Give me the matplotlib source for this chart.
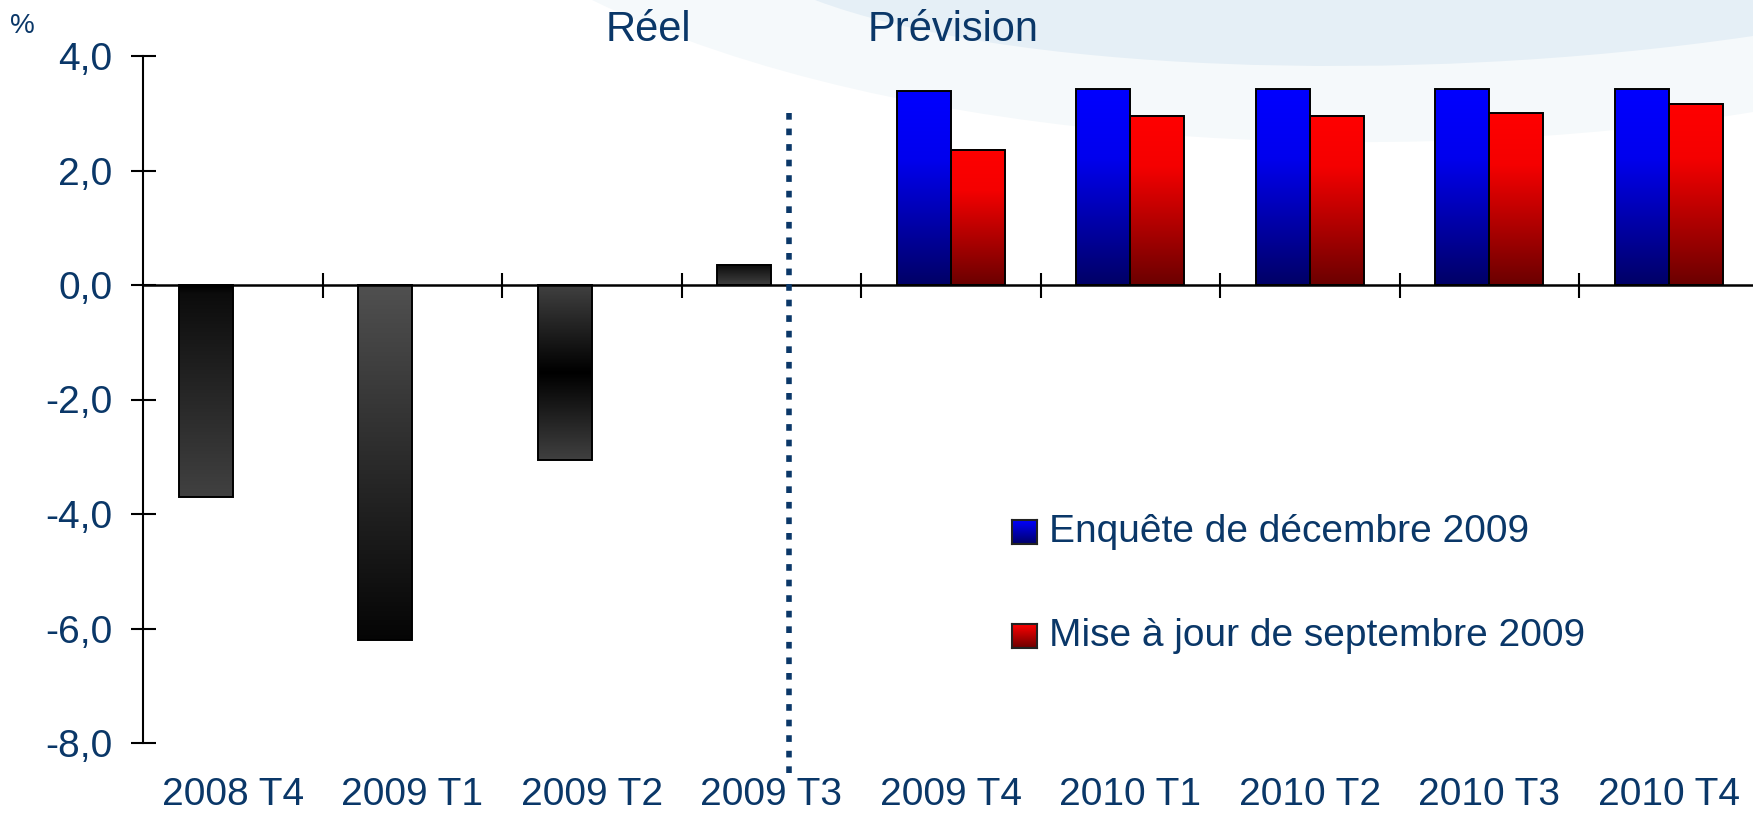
import matplotlib.pyplot as plt
import numpy as np
from matplotlib.colors import LinearSegmentedColormap
from matplotlib.patches import PathPatch
from matplotlib.path import Path

plt.rcParams['font.family'] = ['Liberation Sans', 'DejaVu Sans']

# data
categories = ['2008 T4', '2009 T1', '2009 T2', '2009 T3', '2009 T4',
              '2010 T1', '2010 T2', '2010 T3', '2010 T4']
reel = [-3.7, -6.2, -3.05, 0.35]
enquete_dec = [3.38, 3.42, 3.42, 3.42, 3.42]
maj_sept = [2.36, 2.96, 2.96, 3.0, 3.17]
yticks = [-8, -6, -4, -2, 0, 2, 4]
ytick_labels = ['-8,0', '-6,0', '-4,0', '-2,0', '0,0', '2,0', '4,0']
legend_labels = ['Enquête de décembre 2009', 'Mise à jour de septembre 2009']

NAVY = '#0a3768'
W, H = 1753, 815

# gradient stops (top -> bottom) for each bar style
gray_stops = [
    [(0, '#000000'), (0.04, '#0c0c0c'), (1, '#414141')],
    [(0, '#505050'), (1, '#050505')],
    [(0, '#404040'), (0.5, '#000000'), (1, '#404040')],
    [(0, '#0a0a0a'), (1, '#404040')],
]
blue_stops = [(0, '#0000ff'), (0.35, '#0000ee'), (1, '#000066')]
red_stops = [(0, '#ff0000'), (0.3, '#f50000'), (1, '#6b0000')]


def vgrad(stops, n=256):
    cmap = LinearSegmentedColormap.from_list('g', stops)
    return cmap(np.linspace(0, 1, n))[:, None, :]


def fill_bars(ax, bars, stops_list):
    for b, stops in zip(bars, stops_list):
        x0, y0 = b.get_x(), b.get_y()
        w, h = b.get_width(), b.get_height()
        ax.imshow(vgrad(stops), extent=[x0, x0 + w, min(y0, y0 + h), max(y0, y0 + h)],
                  aspect='auto', origin='upper', zorder=2, interpolation='bilinear')


fig = plt.figure(figsize=(W / 100, H / 100), dpi=100)


def fx(px):
    return px / W


def fy(py):
    return 1 - py / H


# light blue swoosh in the background
def band(p0, p1, p2, p3, color):
    pts = [(fx(x), fy(y)) for x, y in (p0, p1, p2, p3)]
    verts = pts + [(fx(W + 5), fy(-5)), (fx(p0[0]), fy(-5)), pts[0]]
    codes = [Path.MOVETO, Path.CURVE4, Path.CURVE4, Path.CURVE4,
             Path.LINETO, Path.LINETO, Path.CLOSEPOLY]
    fig.add_artist(PathPatch(Path(verts, codes), transform=fig.transFigure,
                             facecolor=color, edgecolor='none', zorder=0))


band((592, 0), (900, 150), (1400, 170), (W, 112), '#f5f9fb')
band((815, 0), (1000, 70), (1400, 88), (W, 36), '#e5eff6')

ax = fig.add_axes([fx(143), 72 / H, (1758.5 - 143) / W, 687 / H])
ax.set_facecolor('none')

x = np.arange(len(categories))
bw = 0.3
n_reel = len(reel)
xf = x[n_reel:n_reel + len(enquete_dec)]

gray_bars = ax.bar(x[:n_reel] - bw / 2, reel, bw, facecolor='none',
                   edgecolor='black', linewidth=1.4, zorder=3)
blue_bars = ax.bar(xf - bw / 2, enquete_dec, bw, facecolor='none',
                   edgecolor='black', linewidth=1.4, zorder=3)
red_bars = ax.bar(xf + bw / 2, maj_sept, bw, facecolor='none',
                  edgecolor='black', linewidth=1.4, zorder=3)
fill_bars(ax, gray_bars, gray_stops)
fill_bars(ax, blue_bars, [blue_stops] * len(blue_bars))
fill_bars(ax, red_bars, [red_stops] * len(red_bars))

ax.set_xlim(-0.5, len(categories) - 0.5)
ax.set_ylim(-8, 4)

# separation real / forecast
ax.plot([3.1, 3.1], [3.0, -8.6], color=NAVY, lw=4, clip_on=False,
        linestyle=(0, (1.2, 1.6)), dash_capstyle='butt', zorder=4)

for s in ['top', 'right']:
    ax.spines[s].set_visible(False)
ax.spines['bottom'].set_position(('data', 0))
ax.spines['bottom'].set_linewidth(1.8)
ax.spines['left'].set_linewidth(1.5)

ax.set_yticks(yticks, ytick_labels)
ax.tick_params(axis='y', direction='inout', length=18, width=1.5, pad=13,
               labelsize=28, labelcolor=NAVY)
ax.set_xticks([])
ax.set_xticks(np.arange(0.5, len(categories) - 1), minor=True)
ax.tick_params(axis='x', which='minor', direction='inout', length=18, width=1.5)

sec = ax.secondary_xaxis('bottom')
sec.set_xticks(x, categories)
sec.tick_params(length=0, pad=24.5, labelsize=28, labelcolor=NAVY)
sec.spines['bottom'].set_visible(False)

fig.text(fx(22), fy(26), '%', fontsize=20, color=NAVY, ha='center', va='center')
fig.text(fx(648), fy(30), 'Réel', fontsize=30, color=NAVY, ha='center', va='center')
fig.text(fx(953), fy(30), 'Prévision', fontsize=30, color=NAVY, ha='center', va='center')

# legend with gradient squares
for i, (lab, stops) in enumerate(zip(legend_labels, [blue_stops, red_stops])):
    cy = 532 + i * 104
    lax = fig.add_axes([fx(1012), fy(cy + 12), fx(25), 24 / H])
    lax.imshow(vgrad([(0, stops[0][1]), (1, stops[-1][1])]), aspect='auto',
               extent=[0, 1, 0, 1], origin='upper')
    lax.set_xticks([])
    lax.set_yticks([])
    for sp in lax.spines.values():
        sp.set_linewidth(1.5)
        sp.set_edgecolor('#222222')
    fig.text(fx(1049), fy(cy), lab, fontsize=28, color=NAVY, ha='left', va='center')

fig.savefig('out.png', dpi=100)
